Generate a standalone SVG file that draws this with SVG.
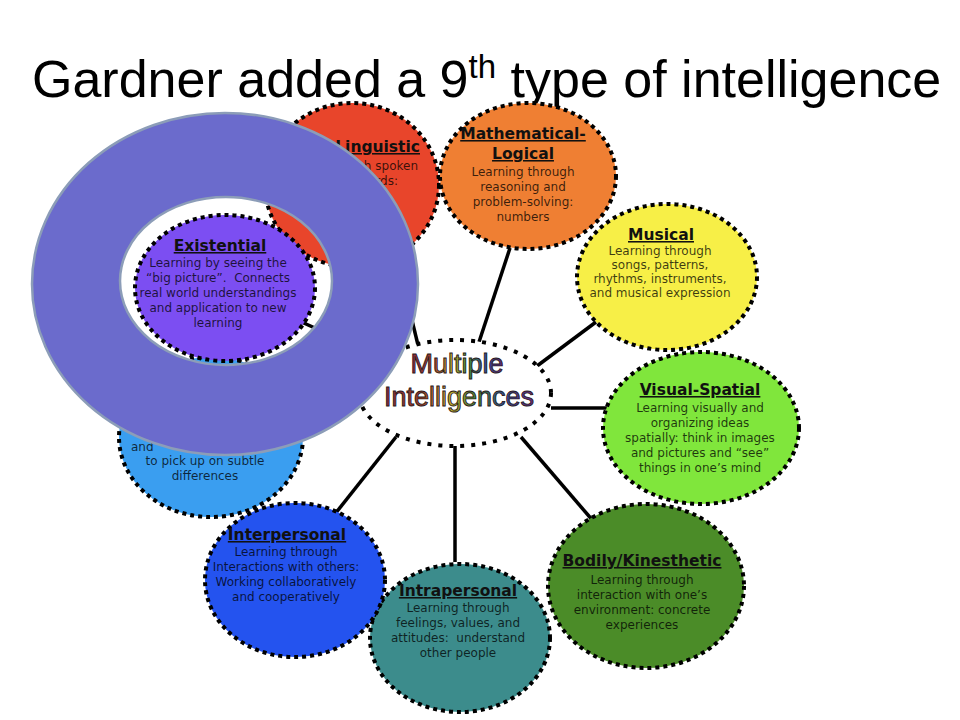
<svg xmlns="http://www.w3.org/2000/svg" width="960" height="720" viewBox="0 0 960 720">
<style>
.dot{stroke:#000;stroke-width:4;stroke-dasharray:4 4;}
.h{font-family:"DejaVu Sans",Verdana,sans-serif;font-weight:bold;font-size:15.5px;text-anchor:middle;fill:#111;text-decoration:underline;}
.b{font-family:"DejaVu Sans",Verdana,sans-serif;font-size:12px;text-anchor:middle;fill:#000;fill-opacity:0.76;}
.con{stroke:#000;stroke-width:3.5;fill:none;}
.mi{font-family:"Liberation Sans",Arial,sans-serif;font-size:27px;text-anchor:middle;fill:url(#rainbow);stroke:#2a1a1a;stroke-width:0.9;}
</style>
<defs>
<linearGradient id="rainbow" x1="0" y1="0" x2="1" y2="0">
<stop offset="0" stop-color="#8a2a3e"/>
<stop offset="0.25" stop-color="#a3402c"/>
<stop offset="0.45" stop-color="#c4b030"/>
<stop offset="0.62" stop-color="#3f8a3a"/>
<stop offset="0.8" stop-color="#2d4fa0"/>
<stop offset="1" stop-color="#6a2a7e"/>
</linearGradient>
</defs>
<rect width="960" height="720" fill="#fff"/>
<text x="32" y="97" font-family="Liberation Sans,Arial,sans-serif" font-size="52" fill="#000">Gardner added a 9<tspan font-size="33" dy="-19">th</tspan><tspan dy="19"> type of intelligence</tspan></text>

<g id="connectors">
<line class="con" x1="418" y1="345" x2="395" y2="250"/>
<line class="con" x1="479" y1="342" x2="510" y2="248"/>
<line class="con" x1="537" y1="366" x2="596" y2="322"/>
<line class="con" x1="551" y1="408" x2="608" y2="408"/>
<line class="con" x1="521" y1="437" x2="594" y2="522"/>
<line class="con" x1="455" y1="446" x2="455" y2="562"/>
<line class="con" x1="396" y1="437" x2="331" y2="519"/>
<line class="con" x1="455" y1="391" x2="226" y2="288"/>
</g>

<g id="linguistic">
<ellipse class="dot" cx="352" cy="185" rx="87" ry="82" fill="#e8452b"/>
<text class="h" x="420" y="152" style="text-anchor:end">Linguistic</text>
<text class="b" x="418" y="170" style="text-anchor:end">through spoken</text>
<text class="b" x="398" y="185" style="text-anchor:end">words:</text>
</g>

<g id="mathematical">
<ellipse class="dot" cx="528" cy="176" rx="88" ry="73" fill="#ef7f33"/>
<text class="h" x="523" y="139">Mathematical-</text>
<text class="h" x="523" y="159">Logical</text>
<text class="b" x="523" y="176">Learning through</text>
<text class="b" x="523" y="191">reasoning and</text>
<text class="b" x="523" y="206">problem-solving:</text>
<text class="b" x="523" y="221">numbers</text>
</g>

<g id="musical">
<ellipse class="dot" cx="667" cy="277" rx="90" ry="73" fill="#f7ef47"/>
<text class="h" x="661" y="240">Musical</text>
<text class="b" x="660" y="255">Learning through</text>
<text class="b" x="660" y="269">songs, patterns,</text>
<text class="b" x="660" y="283">rhythms, instruments,</text>
<text class="b" x="660" y="297">and musical expression</text>
</g>

<g id="visual-spatial">
<ellipse class="dot" cx="701" cy="428" rx="98" ry="76" fill="#80e63c"/>
<text class="h" x="700" y="395">Visual-Spatial</text>
<text class="b" x="700" y="412">Learning visually and</text>
<text class="b" x="700" y="427">organizing ideas</text>
<text class="b" x="700" y="442">spatially: think in images</text>
<text class="b" x="700" y="457">and pictures and “see”</text>
<text class="b" x="700" y="472">things in one’s mind</text>
</g>

<g id="bodily-kinesthetic">
<ellipse class="dot" cx="646" cy="586" rx="98" ry="82" fill="#4b8c28"/>
<text class="h" x="642" y="566">Bodily/Kinesthetic</text>
<text class="b" x="642" y="584">Learning through</text>
<text class="b" x="642" y="599">interaction with one’s</text>
<text class="b" x="642" y="614">environment: concrete</text>
<text class="b" x="642" y="629">experiences</text>
</g>

<g id="intrapersonal">
<ellipse class="dot" cx="460" cy="638" rx="90" ry="74" fill="#3c8c8c"/>
<text class="h" x="458" y="596">Intrapersonal</text>
<text class="b" x="458" y="612">Learning through</text>
<text class="b" x="458" y="627">feelings, values, and</text>
<text class="b" x="458" y="642" xml:space="preserve">attitudes:  understand</text>
<text class="b" x="458" y="657">other people</text>
</g>

<g id="interpersonal">
<ellipse class="dot" cx="295" cy="580" rx="90" ry="77" fill="#2453ef"/>
<text class="h" x="287" y="540">Interpersonal</text>
<text class="b" x="286" y="556">Learning through</text>
<text class="b" x="286" y="571">Interactions with others:</text>
<text class="b" x="286" y="586">Working collaboratively</text>
<text class="b" x="286" y="601">and cooperatively</text>
</g>

<g id="naturalist">
<ellipse class="dot" cx="211" cy="437" rx="92" ry="80" fill="#3a9ef0"/>
<text class="b" x="131" y="451" style="text-anchor:start">and</text>
<text class="b" x="205" y="465">to pick up on subtle</text>
<text class="b" x="205" y="480">differences</text>
</g>

<g id="existential">
<ellipse class="dot" cx="225" cy="288" rx="90" ry="73" fill="#7c4ef2"/>
<text class="h" x="220" y="251">Existential</text>
<text class="b" x="218" y="267">Learning by seeing the</text>
<text class="b" x="218" y="282" xml:space="preserve">“big picture”.  Connects</text>
<text class="b" x="218" y="297">real world understandings</text>
<text class="b" x="218" y="312">and application to new</text>
<text class="b" x="218" y="327">learning</text>
</g>

<g id="center">
<ellipse cx="455" cy="393" rx="96" ry="53" fill="#fff" stroke="#000" stroke-width="4" stroke-dasharray="4 7"/>
<text class="mi" x="457" y="373">Multiple</text>
<text class="mi" x="459" y="406">Intelligences</text>
</g>

<g id="ring">
<path fill="#6b6bcc" fill-rule="evenodd" stroke="#8c9db8" stroke-width="2.5" d="M32,284 a193,171 0 1,0 386,0 a193,171 0 1,0 -386,0 Z M120,281 a106,84 0 1,0 212,0 a106,84 0 1,0 -212,0 Z"/>
</g>
</svg>
